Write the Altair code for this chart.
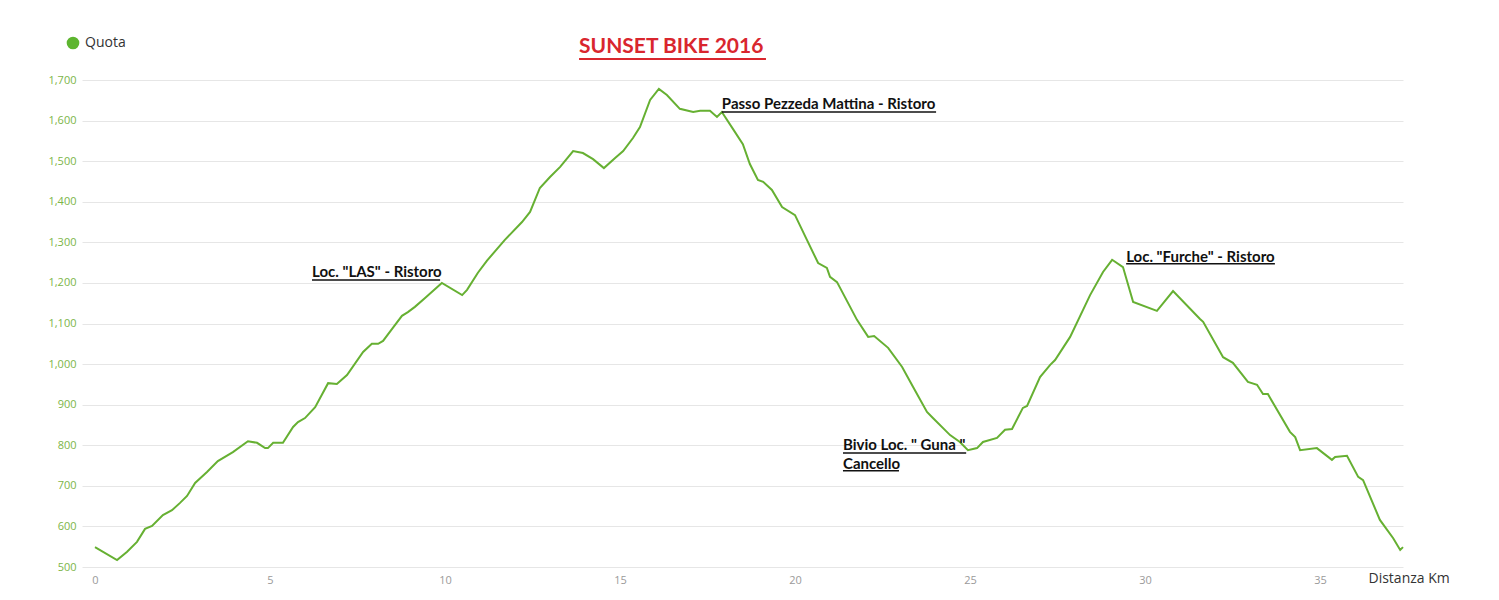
import altair as alt
import pandas as pd

# Elevation profile
km = [0.0, 0.63, 0.91, 1.2, 1.43, 1.63, 1.94, 2.2, 2.43, 2.63, 2.86, 3.2, 3.51, 3.94, 4.37, 4.63,
      4.86, 4.94, 5.09, 5.37, 5.66, 5.8, 6.0, 6.29, 6.66, 6.91, 7.2, 7.66, 7.91, 8.09, 8.23, 8.51,
      8.77, 8.94, 9.14, 9.43, 9.91, 10.49, 10.63, 10.94, 11.2, 11.71, 12.2, 12.43, 12.71, 13.0,
      13.29, 13.66, 13.94, 14.23, 14.54, 14.86, 15.09, 15.37, 15.57, 15.86, 16.11, 16.34, 16.71,
      17.09, 17.29, 17.57, 17.77, 17.91, 18.23, 18.51, 18.71, 18.94, 19.09, 19.34, 19.63, 20.0,
      20.34, 20.66, 20.91, 21.0, 21.2, 21.77, 22.09, 22.26, 22.66, 23.06, 23.37, 23.77, 23.94,
      24.43, 24.71, 24.94, 25.2, 25.37, 25.77, 26.0, 26.2, 26.51, 26.63, 27.0, 27.29, 27.43,
      27.86, 28.43, 28.8, 29.06, 29.37, 29.66, 30.34, 30.8, 31.57, 31.66, 32.23, 32.51, 32.94,
      33.2, 33.37, 33.51, 34.14, 34.29, 34.43, 34.91, 35.34, 35.43, 35.77, 36.09, 36.23, 36.71,
      37.09, 37.29, 37.37]
quota = [549, 517, 537, 562, 594, 601, 628, 640, 658, 675, 707, 734, 761, 783, 810, 806,
         793, 793, 806, 806, 845, 857, 867, 894, 953, 951, 973, 1030, 1050, 1050, 1057, 1089,
         1119, 1128, 1141, 1163, 1200, 1170, 1183, 1225, 1255, 1306, 1350, 1375, 1434, 1461,
         1486, 1525, 1520, 1505, 1483, 1508, 1525, 1557, 1584, 1651, 1678, 1663, 1629,
         1621, 1624, 1624, 1609, 1621, 1579, 1542, 1493, 1454, 1449, 1429, 1387, 1367,
         1306, 1249, 1237, 1215, 1202, 1109, 1067, 1069, 1040, 993, 944, 882, 867,
         825, 808, 788, 793, 808, 818, 838, 840, 892, 897, 968, 998, 1010,
         1067, 1170, 1227, 1257, 1239, 1153, 1131, 1180, 1111, 1104, 1017, 1003, 956,
         949, 926, 926, 833, 820, 788, 793, 764, 771, 774, 722, 714, 616,
         571, 542, 549]

# Annotations (text, start km, elevation of text, underline elevation, underline end km)
ann_text = ['Passo Pezzeda Mattina - Ristoro', 'Loc. "LAS" - Ristoro', 'Bivio Loc. " Guna "',
            'Cancello', 'Loc. "Furche" - Ristoro']
ann_km = [17.91, 6.2, 21.37, 21.37, 29.46]
ann_y = [1641, 1227, 801, 754, 1264]
ann_uy = [1621, 1207, 781, 737, 1247]
ann_kmend = [24.03, 9.86, 24.89, 22.97, 33.71]

title_text = ["SUNSET BIKE 2016"]
title_km = [13.83]
title_y = [1781]
title_uy = [1752]
title_kmend = [19.17]

x_ticks = [0, 5, 10, 15, 20, 25, 30, 35]
y_ticks = [500, 600, 700, 800, 900, 1000, 1100, 1200, 1300, 1400, 1500, 1600, 1700]

df = pd.DataFrame({"km": km, "quota": quota, "serie": ["Quota"] * len(km)})
ann = pd.DataFrame({"t": ann_text, "km": ann_km, "y": ann_y, "uy": ann_uy, "km2": ann_kmend})
tit = pd.DataFrame({"t": title_text, "km": title_km, "y": title_y, "uy": title_uy, "km2": title_kmend})

GREEN = "#66b032"

xscale = alt.Scale(domain=[-0.371, 37.37], nice=False, zero=False)
yscale = alt.Scale(domain=[500, 1700], nice=False, zero=False)

line = alt.Chart(df).mark_line(strokeWidth=2).encode(
    x=alt.X("km:Q", scale=xscale,
            axis=alt.Axis(values=x_ticks, grid=False, domain=False, ticks=False,
                          labelColor="#9a9a9a", labelFontSize=11, labelFont="Open Sans",
                          labelPadding=7, title="Distanza Km", titleX=1286, titleY=11,
                          titleAlign="left", titleBaseline="middle", titleFontWeight="normal",
                          titleFontSize=14, titleColor="#333333", titleFont="Open Sans")),
    y=alt.Y("quota:Q", scale=yscale,
            axis=alt.Axis(values=y_ticks, format=",.0f", grid=True,
                          gridColor="#e6e6e6", domain=False, ticks=False,
                          labelColor="#7cb548", labelFontSize=11, labelFont="Open Sans",
                          labelPadding=6, title=None)),
    color=alt.Color("serie:N", scale=alt.Scale(range=[GREEN]),
                    legend=alt.Legend(title=None, orient="none", legendX=-16, legendY=-44,
                                      symbolType="circle", symbolSize=160,
                                      symbolFillColor="#5db52f", symbolStrokeWidth=0,
                                      labelFont="Open Sans", labelFontSize=14,
                                      labelColor="#333333", labelOffset=5, padding=0)),
)

ann_text_layer = alt.Chart(ann).mark_text(align="left", baseline="middle", font="Lato",
                                         fontWeight="bold", fontSize=15, color="#111111").encode(
    x=alt.X("km:Q", scale=xscale), y=alt.Y("y:Q", scale=yscale), text="t:N")
ann_rule = alt.Chart(ann).mark_rule(color="#111111", strokeWidth=1.5).encode(
    x=alt.X("km:Q", scale=xscale), x2="km2:Q", y=alt.Y("uy:Q", scale=yscale))

tit_text = alt.Chart(tit).mark_text(align="left", baseline="middle", font="Lato",
                                    fontWeight="bold", fontSize=21, color="#d9262e").encode(
    x=alt.X("km:Q", scale=xscale), y=alt.Y("y:Q", scale=yscale), text="t:N")
tit_rule = alt.Chart(tit).mark_rule(color="#d9262e", strokeWidth=2).encode(
    x=alt.X("km:Q", scale=xscale), x2="km2:Q", y=alt.Y("uy:Q", scale=yscale))

chart = alt.layer(line, ann_text_layer, ann_rule, tit_text, tit_rule).properties(
    width=1321, height=487,
    padding={"left": 74, "top": 72, "right": 80, "bottom": 25},
    autosize=alt.AutoSizeParams(type="none"),
).configure_view(stroke=None)

chart.save("out.html", embed_options={"renderer": "svg", "actions": False})
